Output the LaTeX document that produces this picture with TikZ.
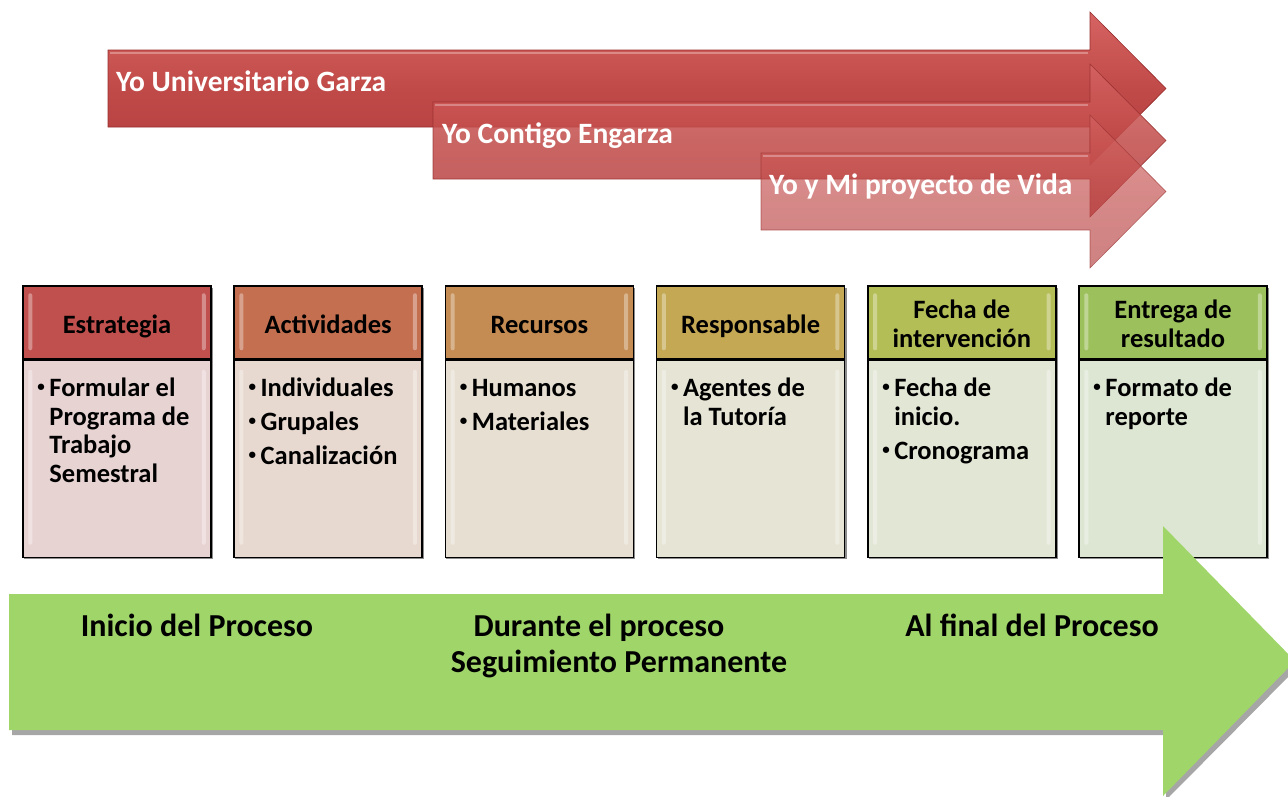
\documentclass[tikz,border=0pt]{standalone}
\usepackage{fontspec}
\setmainfont{Carlito}
\usetikzlibrary{calc}
\definecolor{redA}{RGB}{192,74,72}
\definecolor{redTop}{RGB}{214,100,98}
\definecolor{redBot}{RGB}{180,62,62}
\definecolor{redLine}{RGB}{150,45,45}
\definecolor{grn}{RGB}{160,213,106}
\definecolor{hcA}{RGB}{192,80,77}
\definecolor{hcB}{RGB}{196,112,80}
\definecolor{hcC}{RGB}{196,140,82}
\definecolor{hcD}{RGB}{196,168,84}
\definecolor{hcE}{RGB}{180,190,86}
\definecolor{hcF}{RGB}{156,192,92}
\definecolor{bcA}{RGB}{232,211,211}
\definecolor{bcB}{RGB}{232,217,208}
\definecolor{bcC}{RGB}{231,223,210}
\definecolor{bcD}{RGB}{230,228,212}
\definecolor{bcE}{RGB}{226,230,212}
\definecolor{bcF}{RGB}{221,230,211}
\newcommand\bitem[1]{\hangindent=12pt\hangafter=1\noindent\makebox[12pt][l]{\raisebox{5pt}{\fontsize{15}{15}\selectfont\textbullet}}#1\par}
\newcommand\bnext{\vspace{5.5pt}}
\newcommand\hl{\rule[-7pt]{0pt}{35pt}}
\newcommand\hlA{\rule[0pt]{0pt}{28pt}}
\newcommand\hlB{\rule[-7pt]{0pt}{7pt}}
\newcommand\btext[1]{\begin{minipage}[t]{157pt}\raggedright\rightskip=0pt plus 1fil\relax\spaceskip=\fontdimen2\font\relax\hyphenpenalty=10000\relax #1\end{minipage}}
\tikzset{
  toptext/.style={anchor=base west, inner sep=0, text=white, font=\bfseries\fontsize{29.5}{34}\selectfont},
  hdr/.style={draw=black, line width=1.5pt, minimum width=188, minimum height=73, inner sep=0, align=center, font=\bfseries\fontsize{26.5}{29}\selectfont},
  bodybox/.style={draw=black, line width=1.5pt, minimum width=188, minimum height=197, inner sep=0, anchor=north},
  bodytext/.style={anchor=base west, inner sep=0, font=\bfseries\fontsize{26.5}{28.5}\selectfont},
  bottext/.style={anchor=base, inner sep=0, font=\bfseries\fontsize{32}{36}\selectfont},
  shine/.style={fill=white, opacity=0.35, rounded corners=2},
  toparrow/.style={top color=redTop, bottom color=redBot, middle color=redA, draw=redLine, line width=0.6pt}
}
\newcommand\colbox[6]{%
  \fill[black!45] (#1-93,288) rectangle (#1+96,559);
  \node[hdr, fill=#3] (h#2) at (#1,322.5) {#5};
  \node[bodybox, fill=#4] (b#2) at (h#2.south) {};
  \fill[shine] ($(h#2.north west)+(6,8)$) rectangle ++(4,57);
  \fill[shine] ($(h#2.north east)+(-10,8)$) rectangle ++(4,57);
  \fill[shine] ($(b#2.north west)+(6,10)$) rectangle ++(4,175);
  \fill[shine] ($(b#2.north east)+(-10,10)$) rectangle ++(4,175);
  \node[bodytext] (t#2) at ($(b#2.north west)+(15,37)$) {\btext{#6}};
}
\begin{document}
\begin{tikzpicture}[x=1pt,y=-1pt]
\useasboundingbox (0,0) rectangle (1288,796);
\clip (0,0) rectangle (1288,796);
% top arrows
\path[toparrow]
  (108,50) -- (1090,50) -- (1090,12) -- (1166,88.5) -- (1090,165) -- (1090,127) -- (108,127) -- cycle;
\draw[white, opacity=0.3, line width=2pt] (110,53) -- (1088,53);
\path[toparrow, opacity=0.85]
  (433,102) -- (1090,102) -- (1090,64) -- (1166,140.5) -- (1090,217) -- (1090,179) -- (433,179) -- cycle;
\draw[white, opacity=0.3, line width=2pt] (435,105) -- (1088,105);
\path[toparrow, opacity=0.65]
  (761,153) -- (1090,153) -- (1090,115) -- (1166,191.5) -- (1090,268) -- (1090,230) -- (761,230) -- cycle;
\draw[white, opacity=0.3, line width=2pt] (763,156) -- (1088,156);
\node[toptext] (a1) at (116,91) {Yo Universitario Garza};
\node[toptext] (a2) at (442,143) {Yo Contigo Engarza};
\node[toptext] (a3) at (769,194) {Yo y Mi proyecto de Vida};
% columns
\colbox{117}{1}{hcA}{bcA}{\hl Estrategia}{\bitem{Formular el Programa de Trabajo Semestral}}
\colbox{328.2}{2}{hcB}{bcB}{\hl Actividades}{\bitem{Individuales}\bnext\bitem{Grupales}\bnext\bitem{Canalización}}
\colbox{539.4}{3}{hcC}{bcC}{\hl Recursos}{\bitem{Humanos}\bnext\bitem{Materiales}}
\colbox{750.6}{4}{hcD}{bcD}{\hl Responsable}{\bitem{Agentes de la Tutoría}}
\colbox{961.8}{5}{hcE}{bcE}{\hlA Fecha de\\\hlB intervención}{\bitem{Fecha de inicio.}\bnext\bitem{Cronograma}}
\colbox{1173}{6}{hcF}{bcF}{\hlA Entrega de\\\hlB resultado}{\bitem{Formato de reporte}}
% bottom arrow
\fill[black!35] (12,599) -- (1166,599) -- (1166,531) -- (1299,666) -- (1166,800) -- (1166,735) -- (12,735) -- cycle;
\fill[grn] (9,594) -- (1163,594) -- (1163,526) -- (1295,661) -- (1163,796) -- (1163,730) -- (9,730) -- cycle;
\node[bottext] (p1) at (197,636) {Inicio del Proceso};
\node[bottext] (p2) at (599,636) {Durante el proceso};
\node[bottext] (p3) at (619,672) {Seguimiento Permanente};
\node[bottext] (p4) at (1032,636) {Al final del Proceso};
\end{tikzpicture}
\end{document}
